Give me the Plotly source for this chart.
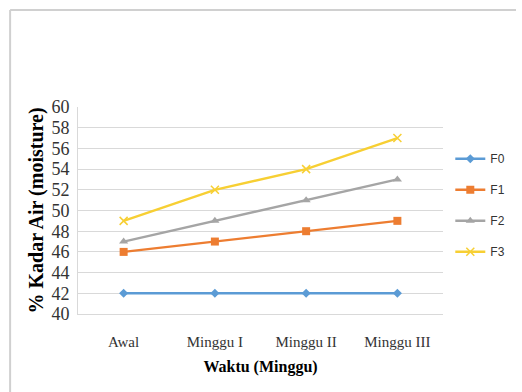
import plotly.graph_objects as go

# Moisture content per formula over the storage period
categories = ["Awal", "Minggu I", "Minggu II", "Minggu III"]
f0 = [42, 42, 42, 42]
f1 = [46, 47, 48, 49]
f2 = [47, 49, 51, 53]
f3 = [49, 52, 54, 57]

series = [
    ("F0", f0, "#5B9BD5", dict(symbol="diamond", size=7)),
    ("F1", f1, "#ED7D31", dict(symbol="square", size=8)),
    ("F2", f2, "#A5A5A5", dict(symbol="triangle-up", size=8)),
    ("F3", f3, "#F7CF33", dict(symbol="x-thin", size=8, line=dict(width=1.5, color="#F7CF33"))),
]

fig = go.Figure()
for name, vals, color, marker in series:
    fig.add_trace(go.Scatter(
        x=categories, y=vals, name=name, mode="lines+markers",
        legendgroup=name,
        line=dict(color=color, width=2.4),
        marker=dict(color=color, **marker),
    ))

serif = "Liberation Serif, Times New Roman, serif"

fig.update_layout(
    width=522, height=392,
    margin=dict(l=78, r=73, t=107, b=78),
    paper_bgcolor="white", plot_bgcolor="white",
    font=dict(family=serif, color="#333333"),
    showlegend=True,
    legend=dict(
        x=1.02, y=0.82, xanchor="left", yanchor="top",
        font=dict(family="Liberation Sans Narrow, Arial Narrow, Liberation Sans, sans-serif",
                  size=12, color="#333333"),
        tracegroupgap=12, itemwidth=30, bgcolor="rgba(0,0,0,0)",
    ),
    xaxis=dict(
        type="category", range=[-0.5, 3.5],
        showgrid=False, showline=True, linecolor="#D9D9D9", linewidth=1,
        ticks="", ticklabelstandoff=14,
        tickfont=dict(family=serif, size=15, color="#333333"),
        title=dict(text="<b>Waktu (Minggu)</b>", font=dict(family=serif, size=16, color="#000000"),
                   standoff=11),
    ),
    yaxis=dict(
        range=[40, 60], dtick=2, tick0=40,
        showgrid=True, gridcolor="#D9D9D9", gridwidth=1,
        showline=True, linecolor="#D9D9D9", linewidth=1,
        zeroline=False, ticks="", ticklabelstandoff=4,
        tickfont=dict(family=serif, size=18, color="#333333"),
        title=dict(text="<b>% Kadar Air (moisture)</b>", font=dict(family=serif, size=20, color="#000000"),
                   standoff=2),
    ),
)

# light frame along the top and left edges of the chart
fig.add_shape(type="line", xref="paper", yref="paper",
              x0=-0.186, x1=1.2, y0=1.4686, y1=1.4686,
              line=dict(color="#D0D0D0", width=2))
fig.add_shape(type="line", xref="paper", yref="paper",
              x0=-0.186, x1=-0.186, y0=1.4686, y1=-0.4,
              line=dict(color="#D0D0D0", width=2))

fig.write_html("out.html")
